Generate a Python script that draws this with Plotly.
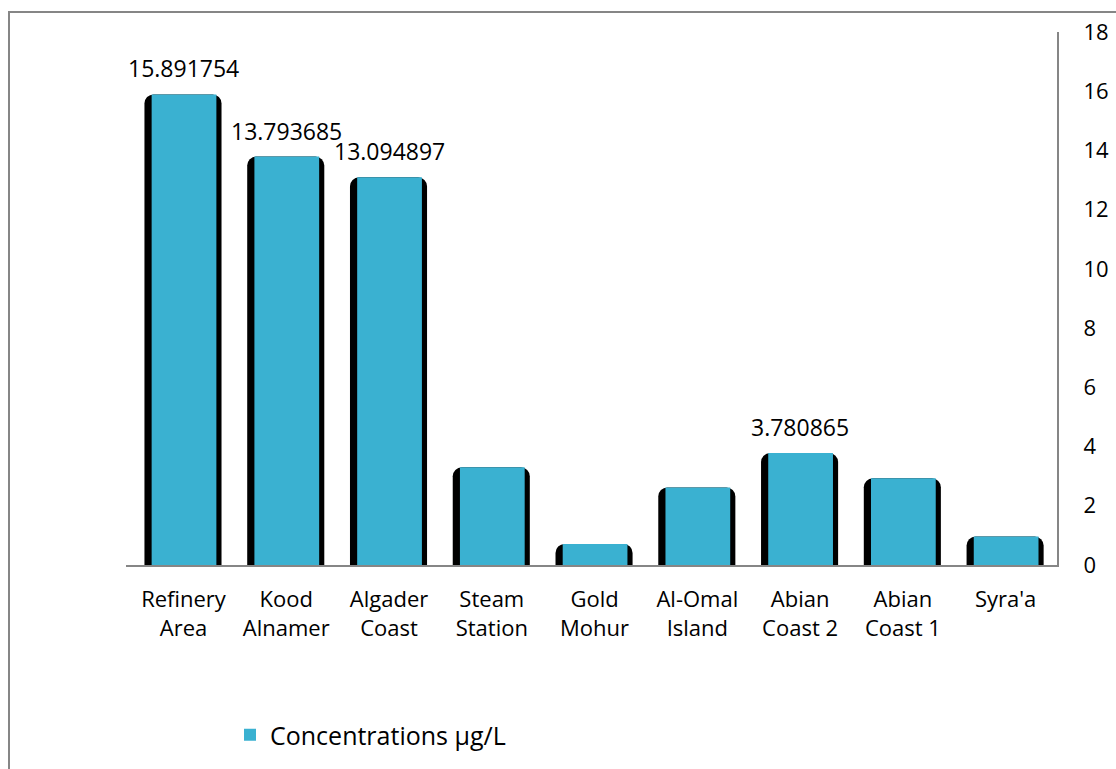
import plotly.graph_objects as go

categories = ["Refinery<br>Area", "Kood<br>Alnamer", "Algader<br>Coast", "Steam<br>Station",
              "Gold<br>Mohur", "Al-Omal<br>Island", "Abian<br>Coast 2", "Abian<br>Coast 1", "Syra'a"]
values = [15.891754, 13.793685, 13.094897, 3.30, 0.71, 2.62, 3.780865, 2.93, 0.96]
labels = ["15.891754", "13.793685", "13.094897", "", "", "", "3.780865", "", ""]
series_name = "Concentrations µg/L"

W, H = 1116, 769
ml, mr, mt, mb = 126, 59, 32, 204
pw, ph = W - ml - mr, H - mt - mb

FONT = "Open Sans"

fig = go.Figure()
# black shadow bars
fig.add_trace(go.Bar(
    x=categories, y=values, width=0.75, offset=-0.38, showlegend=False, hoverinfo="skip",
    marker=dict(color="#000000", cornerradius=9, line=dict(width=0)),
))
# main cyan bars
fig.add_trace(go.Bar(
    x=categories, y=values, width=0.63, offset=-0.31, name=series_name,
    marker=dict(color="#3AB1D1", line=dict(width=0)),
))

for c, v, t in zip(categories, values, labels):
    if t:
        fig.add_annotation(x=c, y=v, text=t, showarrow=False, yanchor="bottom",
                           yshift=8, font=dict(family=FONT, size=23, color="#000000"))

# outer chart frame
fig.add_shape(type="rect", xref="paper", yref="paper",
              x0=(9 - ml) / pw, x1=(W + 20 - ml) / pw,
              y0=-(mb + 20) / ph, y1=(H - mb - 12) / ph,
              line=dict(color="#868686", width=2), layer="below")

fig.update_layout(
    width=W, height=H,
    margin=dict(l=ml, r=mr, t=mt, b=mb, autoexpand=False),
    paper_bgcolor="white", plot_bgcolor="white",
    barmode="overlay", bargap=0.3,
    font=dict(family=FONT, size=22, color="#000000"),
    showlegend=True,
    legend=dict(x=(230 - ml) / pw, y=-(735 - (H - mb)) / ph, xanchor="left", yanchor="middle",
                font=dict(family=FONT, size=25, color="#000000"), bgcolor="rgba(0,0,0,0)",
                itemwidth=30),
    xaxis=dict(showline=True, linecolor="#868686", linewidth=2, showgrid=False, automargin=False,
               ticks="", ticklabelstandoff=14, tickfont=dict(size=22)),
    yaxis=dict(side="right", range=[0, 18], dtick=2, showline=True, linecolor="#868686",
               linewidth=2, showgrid=False, zeroline=False, ticks="", automargin=False,
               ticklabelstandoff=20, tickfont=dict(size=22)),
)

fig.write_html("out.html")
